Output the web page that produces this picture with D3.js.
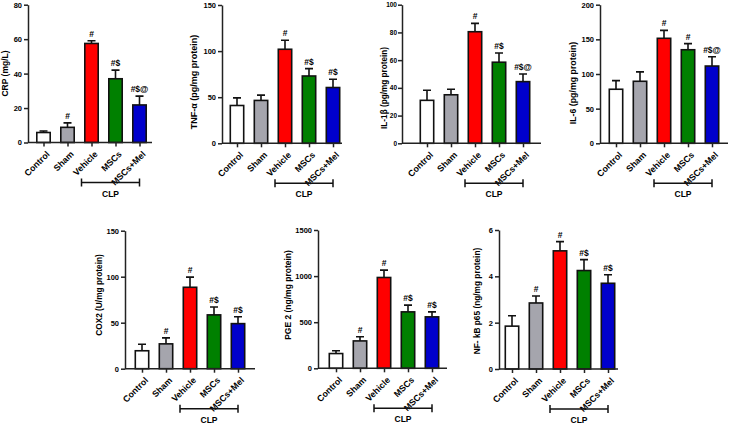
<!DOCTYPE html>
<html>
<head>
<meta charset="utf-8">
<script src="https://cdn.jsdelivr.net/npm/d3@7"></script>
<style>
  body { margin: 0; background: #fff; }
  svg { display: block; font-family: "Liberation Sans", Arial, sans-serif; }
</style>
</head>
<body>
<svg width="730" height="426"></svg>
<script>
var groups = ["Control", "Sham", "Vehicle", "MSCs", "MSCs+Mel"];
var colors = ["#ffffff", "#a5a5ad", "#ff0000", "#008000", "#0000cc"];

var crpMean = [5.8, 8.8, 57.5, 37, 21.8],
    crpErr  = [0.9, 2.6, 1.6, 5, 5.1],
    crpSig  = ["", "#", "#", "#$", "#$@"],
    crpTicks = [0, 20, 40, 60, 80];

var tnfMean = [41, 46.5, 102, 73, 60.5],
    tnfErr  = [8.3, 5.8, 9.7, 8, 9],
    tnfSig  = ["", "", "#", "#$", "#$"],
    tnfTicks = [0, 50, 100, 150];

var il1Mean = [31, 35, 80.5, 58.5, 44.5],
    il1Err  = [7.3, 4, 6, 6.7, 5.5],
    il1Sig  = ["", "", "#", "#$", "#$@"],
    il1Ticks = [0, 20, 40, 60, 80, 100];

var il6Mean = [78, 89.5, 151.5, 135, 111.5],
    il6Err  = [12.5, 13.5, 11.5, 8.8, 13.5],
    il6Sig  = ["", "", "#", "#", "#$@"],
    il6Ticks = [0, 50, 100, 150, 200];

var coxMean = [19.5, 27, 88.5, 58.5, 49],
    coxErr  = [7, 6.5, 11, 8.5, 7.5],
    coxSig  = ["", "#", "#", "#$", "#$"],
    coxTicks = [0, 50, 100, 150];

var pgeMean = [160, 297, 985, 612, 558],
    pgeErr  = [31, 46, 80, 73, 54],
    pgeSig  = ["", "#", "#", "#$", "#$"],
    pgeTicks = [0, 500, 1000, 1500];

var nfMean = [1.85, 2.85, 5.1, 4.25, 3.7],
    nfErr  = [0.45, 0.3, 0.4, 0.47, 0.37],
    nfSig  = ["", "#", "#", "#$", "#$"],
    nfTicks = [0, 2, 4, 6];

var svg = d3.select("svg");

// one GraphPad-style panel
var panel = function(p) {
  var g = svg.append("g");
  var y = d3.scaleLinear().domain([0, p.ticks[p.ticks.length - 1]]).range([p.bottom, p.top]);
  var x = d3.scalePoint().domain(groups).range([p.ax + p.off, p.ax + p.off + 96]);
  var bw = 15;
  var data = groups.map(function(k, i) {
    return {key: k, v: p.mean[i], e: p.err[i], s: p.sig[i], c: colors[i]};
  });

  // error bars (upper only)
  g.selectAll(".eb").data(data).enter().append("path")
      .attr("d", function(d) {
        var cx = x(d.key), ty = y(d.v + d.e);
        return "M" + cx + "," + y(d.v) + "V" + ty + "M" + (cx - 4) + "," + ty + "H" + (cx + 4);
      })
      .attr("stroke", "#111").attr("stroke-width", 1.6).attr("fill", "none");

  g.selectAll("rect").data(data).enter().append("rect")
      .attr("x", function(d) { return x(d.key) - bw / 2 + 0.8; })
      .attr("y", function(d) { return y(d.v); })
      .attr("width", bw - 1.6)
      .attr("height", function(d) { return p.bottom - y(d.v); })
      .attr("fill", function(d) { return d.c; })
      .attr("stroke", "#111").attr("stroke-width", 1.6);

  g.selectAll(".sig").data(data).enter().append("text")
      .attr("x", function(d) { return x(d.key); })
      .attr("y", function(d) { return y(d.v + d.e) - 4; })
      .attr("text-anchor", "middle")
      .attr("font-size", 8.5).attr("font-weight", "bold")
      .text(function(d) { return d.s; });

  // y axis
  var ya = g.append("g")
      .attr("transform", "translate(" + p.ax + ",0)")
      .call(d3.axisLeft(y).tickValues(p.ticks).tickFormat(d3.format("d"))
            .tickSize(4).tickSizeOuter(0).tickPadding(p.tp));
  ya.selectAll("path, line").attr("stroke", "#222").attr("stroke-width", 1.5);
  ya.selectAll("text").attr("font-size", p.tf).attr("font-weight", "bold")
      .attr("fill", "#000").attr("font-family", "Liberation Sans, Arial, sans-serif");

  // x axis
  var xa = g.append("g")
      .attr("transform", "translate(0," + p.bottom + ")")
      .call(d3.axisBottom(x).tickSize(4).tickSizeOuter(0));
  xa.select(".domain").remove();
  xa.append("line").attr("x1", p.ax).attr("x2", p.end);
  xa.selectAll("line").attr("stroke", "#222").attr("stroke-width", 1.5);
  xa.selectAll(".tick text")
      .attr("font-size", 8.8).attr("font-weight", "bold").attr("fill", "#000")
      .attr("font-family", "Liberation Sans, Arial, sans-serif")
      .attr("text-anchor", "end")
      .attr("y", 0).attr("dy", "0.35em")
      .attr("transform", "translate(4,10) rotate(-45)");

  // y label
  g.append("text")
      .attr("transform", "translate(" + p.lx + "," + p.ly + ") rotate(-90)")
      .attr("text-anchor", "middle").attr("dy", "0.35em")
      .attr("font-size", p.lf).attr("font-weight", "bold")
      .text(p.label);

  // CLP bracket
  var bx0 = x("Vehicle") - 10, bx1 = x("MSCs+Mel"), by = p.bottom + 40;
  g.append("path")
      .attr("d", "M" + bx0 + "," + by + "H" + bx1 + "M" + bx0 + "," + (by - 4) + "V" + (by + 4) +
                 "M" + bx1 + "," + (by - 4) + "V" + (by + 4))
      .attr("stroke", "#111").attr("stroke-width", 1.5).attr("fill", "none");
  g.append("text")
      .attr("x", (bx0 + bx1) / 2).attr("y", by + 14)
      .attr("text-anchor", "middle")
      .attr("font-size", 8.5).attr("font-weight", "bold")
      .text("CLP");
};

panel({label: "CRP (mg/L)", mean: crpMean, err: crpErr, sig: crpSig, ticks: crpTicks,
       ax: 28, off: 15.5, end: 152, top: 4.7, bottom: 142.5, lx: 5.5, ly: 73.5, lf: 8.5, tf: 7.5, tp: 2});
panel({label: "TNF-\u03b1 (pg/mg protein)", mean: tnfMean, err: tnfErr, sig: tnfSig, ticks: tnfTicks,
       ax: 222, off: 15, end: 342, top: 5, bottom: 143.3, lx: 193.5, ly: 82, lf: 9, tf: 7.5, tp: 2});
panel({label: "IL-1\u03b2 (pg/mg protein)", mean: il1Mean, err: il1Err, sig: il1Sig, ticks: il1Ticks,
       ax: 402, off: 25, end: 541, top: 4.7, bottom: 143.3, lx: 384, ly: 88, lf: 8.2, tf: 6.5, tp: 1});
panel({label: "IL-6 (pg/mg protein)", mean: il6Mean, err: il6Err, sig: il6Sig, ticks: il6Ticks,
       ax: 600, off: 16, end: 728, top: 4.7, bottom: 143.3, lx: 572.5, ly: 83, lf: 8.8, tf: 7.5, tp: 2});
panel({label: "COX2 (U/mg protein)", mean: coxMean, err: coxErr, sig: coxSig, ticks: coxTicks,
       ax: 125, off: 17, end: 255, top: 230.7, bottom: 368.7, lx: 99.3, ly: 295, lf: 8.3, tf: 7.5, tp: 2});
panel({label: "PGE 2 (ng/mg protein)", mean: pgeMean, err: pgeErr, sig: pgeSig, ticks: pgeTicks,
       ax: 318, off: 18, end: 447, top: 230, bottom: 368.3, lx: 288.3, ly: 295, lf: 8.5, tf: 7.5, tp: 2});
panel({label: "NF- kB p65 (ng/mg protein)", mean: nfMean, err: nfErr, sig: nfSig, ticks: nfTicks,
       ax: 499, off: 13, end: 618, top: 230, bottom: 369, lx: 477.3, ly: 301, lf: 8.3, tf: 7.5, tp: 2});
</script>
</body>
</html>
